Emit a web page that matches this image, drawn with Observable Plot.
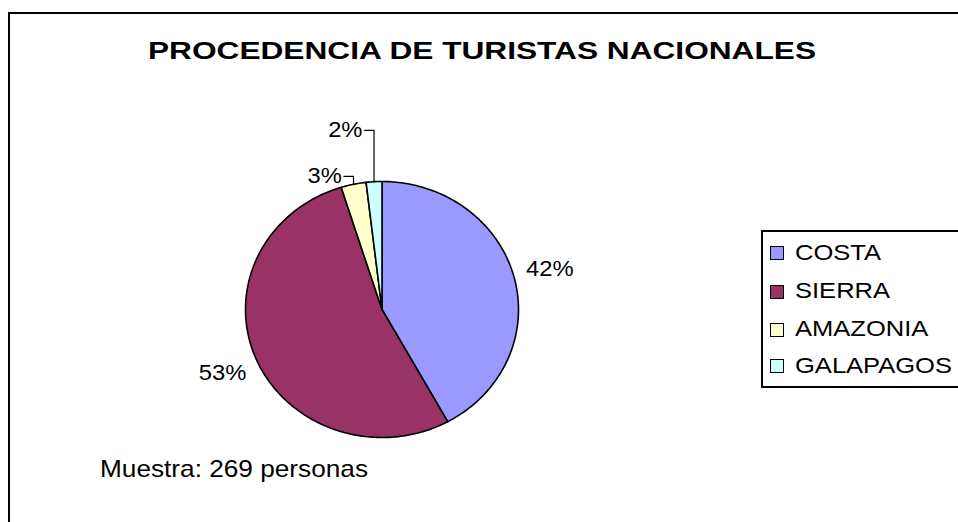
<!DOCTYPE html>
<html>
<head>
<meta charset="utf-8">
<script src="https://cdn.jsdelivr.net/npm/d3@7"></script>
<script src="https://cdn.jsdelivr.net/npm/@observablehq/plot@0.6"></script>
<style>
  html, body { margin: 0; padding: 0; background: #fff; overflow: hidden; }
  #wrap { position: relative; width: 958px; height: 522px; overflow: hidden; font-family: "Liberation Sans", Arial, sans-serif; color: #000; }
  #frame { position: absolute; left: 8px; top: 12px; width: 1000px; height: 600px; border: 2px solid #000; box-sizing: border-box; }
  #plot { position: absolute; left: 0; top: 0; }
  .txt { position: absolute; white-space: nowrap; line-height: 1; transform-origin: 0 0; }
  #title { font-weight: bold; font-size: 24px; }
  #caption { font-size: 24px; }
  #legend { position: absolute; left: 761px; top: 230px; width: 260px; height: 158px; border: 2px solid #000; box-sizing: border-box; background: #fff; }
  .sw { position: absolute; width: 14px; height: 14px; border: 1.5px solid #000; box-sizing: border-box; }
  .lt { position: absolute; font-size: 21.5px; line-height: 1; white-space: nowrap; transform-origin: 0 0; }
</style>
</head>
<body>
<div id="wrap">
  <div id="frame"></div>
  <div id="plot"></div>
  <div id="title" class="txt"></div>
  <div id="caption" class="txt"></div>
  <div id="legend"></div>
</div>
<script>
// ---- data ----
const names = ["COSTA", "SIERRA", "AMAZONIA", "GALAPAGOS"];
const counts = [113, 143, 8, 5];          // 269 personas
const colors = ["#9999FF", "#993366", "#FFFFCC", "#CCFFFF"];
const titleText = "PROCEDENCIA DE TURISTAS NACIONALES";
const captionText = "Muestra: 269 personas";

// ---- layout (not data) ----
const labelRadius = 1.27;
const leaderLevel = {AMAZONIA: 1.04, GALAPAGOS: 1.40};
const leaderRun = 0.07;

const total = d3.sum(counts);
let acc = 0;
const slices = names.map((n, i) => {
  const a0 = acc / total * 2 * Math.PI;
  acc += counts[i];
  const a1 = acc / total * 2 * Math.PI;
  return {name: n, value: counts[i], a0, a1, mid: (a0 + a1) / 2,
          label: Math.round(counts[i] / total * 100) + "%"};
});

const pts = [];
for (const s of slices) {
  pts.push({name: s.name, x: 0, y: 0});
  const steps = Math.max(2, Math.ceil((s.a1 - s.a0) / (Math.PI / 180)));
  for (let k = 0; k <= steps; k++) {
    const a = s.a0 + (s.a1 - s.a0) * k / steps;
    pts.push({name: s.name, x: Math.sin(a), y: Math.cos(a)});
  }
  pts.push({name: s.name, x: 0, y: 0});
}

const big = slices.filter(s => !(s.name in leaderLevel)).map(s => ({
  text: s.label, x: labelRadius * Math.sin(s.mid), y: labelRadius * Math.cos(s.mid)}));

const leaders = [];
const small = [];
for (const s of slices) {
  if (!(s.name in leaderLevel)) continue;
  const ex = Math.sin(s.mid), ey = Math.cos(s.mid), ly = leaderLevel[s.name];
  leaders.push({name: s.name, x: ex, y: ey});
  leaders.push({name: s.name, x: ex, y: ly});
  leaders.push({name: s.name, x: ex - leaderRun, y: ly});
  small.push({text: s.label, x: ex - leaderRun - 0.015, y: ly});
}

const font = "Liberation Sans, Arial, sans-serif";
const chart = Plot.plot({
  width: 958, height: 522, margin: 0,
  style: {background: "transparent", overflow: "visible"},
  x: {domain: [-1, 1], range: [245, 518], axis: null},
  y: {domain: [-1, 1], range: [437, 181], axis: null},
  color: {domain: names, range: colors},
  marks: [
    Plot.line(pts, {x: "x", y: "y", z: "name", fill: "name", stroke: "#000", strokeWidth: 1.6, strokeLinejoin: "round", curve: "linear"}),
    Plot.line(leaders, {x: "x", y: "y", z: "name", stroke: "#000", strokeWidth: 1.2, curve: "linear"}),
    Plot.text(big, {x: "x", y: "y", text: "text", fontSize: 22, fontFamily: font, fill: "#000", textAnchor: "middle"}),
    Plot.text(small, {x: "x", y: "y", text: "text", fontSize: 22, fontFamily: font, fill: "#000", textAnchor: "end"})
  ]
});
document.getElementById("plot").appendChild(chart);
chart.querySelectorAll("text").forEach(t => {
  const w = t.getComputedTextLength();
  if (w > 0) {
    t.setAttribute("textLength", (w * 1.08).toFixed(1));
    t.setAttribute("lengthAdjust", "spacingAndGlyphs");
  }
});

// ---- text fitting helper: size from cap height, horizontal scale from width ----
function place(el, text, left, width, baseline, size) {
  el.textContent = text;
  const natural = el.getBoundingClientRect().width;
  el.style.transform = `scaleX(${width / natural})`;
  el.style.left = left + "px";
  el.style.top = (baseline - 0.8465 * size) + "px";
}
place(document.getElementById("title"), titleText, 148, 668, 59, 24);
place(document.getElementById("caption"), captionText, 100, 268, 477.5, 24);

// ---- legend ----
const legend = document.getElementById("legend");
const rowCenters = [253, 291.5, 329.5, 366];
const legLeft = 761, legTop = 230, lsz = 21.5;
names.forEach((n, i) => {
  const sw = document.createElement("div");
  sw.className = "sw";
  sw.style.background = colors[i];
  sw.style.left = (770 - legLeft - 2) + "px";
  sw.style.top = (rowCenters[i] - 7 - legTop - 2) + "px";
  legend.appendChild(sw);
  const t = document.createElement("div");
  t.className = "lt";
  t.textContent = n;
  t.style.left = (795 - legLeft - 2) + "px";
  t.style.top = (rowCenters[i] + 7.7 - 0.8465 * lsz - legTop - 2) + "px";
  legend.appendChild(t);
});
const labs = legend.querySelectorAll(".lt");
const nat = labs[3].getBoundingClientRect().width;
const sx = 157 / nat;  // GALAPAGOS spans ≈157px
labs.forEach(l => l.style.transform = `scaleX(${sx})`);
</script>
</body>
</html>
